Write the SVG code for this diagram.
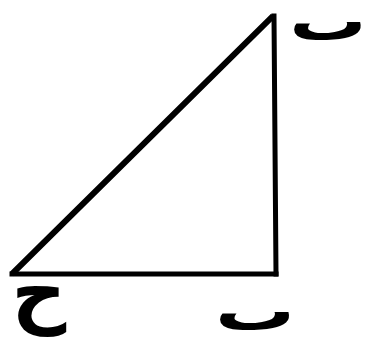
<svg xmlns="http://www.w3.org/2000/svg" width="365" height="349" viewBox="0 0 365 349">
<style>
.edge{stroke:#000;fill:none;stroke-linecap:square;stroke-linejoin:miter}
.lbl{font-family:"DejaVu Sans","Noto Sans",sans-serif;fill:#000;font-weight:bold}
</style>
<rect width="365" height="349" fill="#fff"/>
<g id="connectors">
<line class="edge" x1="14" y1="272" x2="271" y2="18" stroke-width="6"/>
<line class="edge" x1="274" y1="16" x2="276" y2="274" stroke-width="5"/>
<line class="edge" x1="12" y1="274" x2="276" y2="274" stroke-width="5"/>
</g>
<g id="node-top-right"><text class="lbl" transform="translate(328,40) scale(1.4,1)" font-size="55" text-anchor="middle">ٮ</text></g>
<g id="node-bottom-right"><text class="lbl" transform="translate(255,330) scale(1.45,1)" font-size="55" text-anchor="middle">ٮ</text></g>
<g id="node-bottom-left"><text class="lbl" x="39" y="318" font-size="76" text-anchor="middle">ح</text></g>
</svg>
